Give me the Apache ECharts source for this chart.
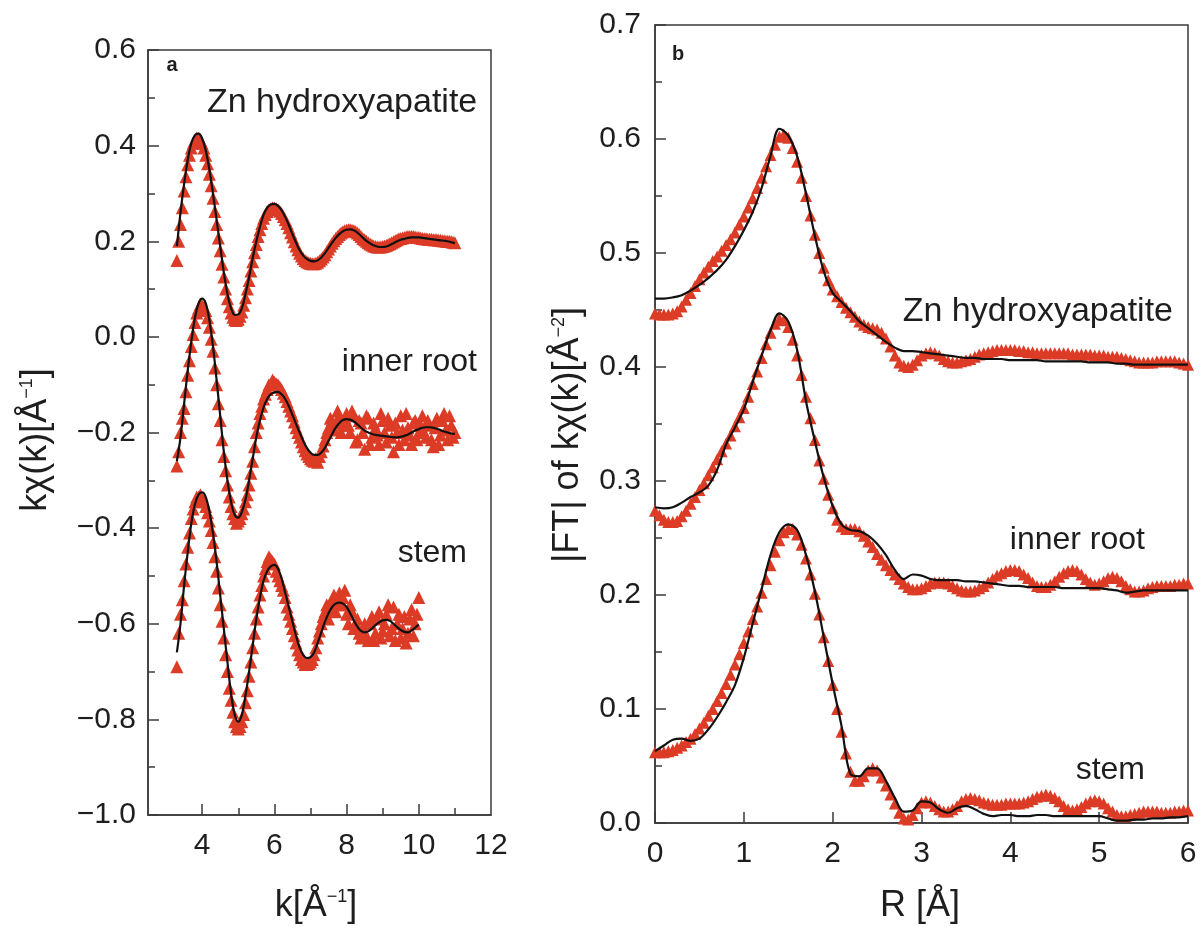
<!DOCTYPE html>
<html>
<head>
<meta charset="utf-8">
<title>EXAFS chi(k) and FT</title>
<script src="https://cdn.jsdelivr.net/npm/echarts@6/dist/echarts.min.js"></script>
<style>
  html, body { margin: 0; padding: 0; background: #fff; }
  #main { width: 1202px; height: 930px; }
</style>
</head>
<body>
<div id="main"></div>
<script>
// ---- panel a: k-space, k in 1/Å ----
var kGrid = [3.3,3.4,3.5,3.6,3.7,3.8,3.9,4.0,4.1,4.2,4.3,4.4,4.5,4.6,4.7,4.8,4.9,5.0,5.1,5.2,
  5.3,5.4,5.5,5.6,5.7,5.8,5.9,6.0,6.1,6.2,6.3,6.4,6.5,6.6,6.7,6.8,6.9,7.0,7.1,7.2,
  7.3,7.4,7.5,7.6,7.7,7.8,7.9,8.0,8.1,8.2,8.3,8.4,8.5,8.6,8.7,8.8,8.9,9.0,9.1,9.2,
  9.3,9.4,9.5,9.6,9.7,9.8,9.9,10.0,10.1,10.2,10.3,10.4,10.5,10.6,10.7,10.8,10.9,11.0];
// the measured points sit between the grid above as well
var kGridMid = [3.35,3.45,3.55,3.65,3.75,3.85,3.95,4.05,4.15,4.25,4.35,4.45,4.55,4.65,4.75,4.85,4.95,5.05,5.15,5.25,
  5.35,5.45,5.55,5.65,5.75,5.85,5.95,6.05,6.15,6.25,6.35,6.45,6.55,6.65,6.75,6.85,6.95,7.05,7.15,7.25,
  7.35,7.45,7.55,7.65,7.75,7.85,7.95,8.05,8.15,8.25,8.35,8.45,8.55,8.65,8.75,8.85,8.95,9.05,9.15,9.25,
  9.35,9.45,9.55,9.65,9.75,9.85,9.95,10.05,10.15,10.25,10.35,10.45,10.55,10.65,10.75,10.85,10.95];

// measured (triangles)
var znK = [0.16,0.235,0.305,0.36,0.395,0.412,0.415,0.405,0.38,0.34,
  0.29,0.235,0.18,0.125,0.08,0.05,0.036,0.037,0.052,0.082,
  0.118,0.157,0.193,0.224,0.248,0.262,0.268,0.269,0.266,0.258,
  0.245,0.228,0.209,0.19,0.175,0.164,0.157,0.154,0.153,0.156,
  0.163,0.172,0.184,0.196,0.206,0.214,0.22,0.223,0.224,0.222,
  0.217,0.21,0.203,0.197,0.192,0.189,0.188,0.189,0.191,0.195,
  0.199,0.203,0.206,0.208,0.21,0.21,0.209,0.208,0.206,0.205,
  0.204,0.203,0.203,0.202,0.201,0.2,0.199,0.197];
var znKMid = [0.2,0.27,0.335,0.38,0.405,0.416,0.412,0.395,0.362,0.316,
  0.262,0.207,0.152,0.1,0.063,0.041,0.034,0.043,0.066,0.1,
  0.138,0.176,0.21,0.237,0.256,0.266,0.27,0.268,0.263,0.252,
  0.237,0.218,0.199,0.182,0.169,0.16,0.155,0.153,0.154,0.159,
  0.167,0.178,0.19,0.201,0.21,0.217,0.222,0.224,0.223,0.22,
  0.214,0.206,0.2,0.194,0.19,0.188,0.188,0.19,0.193,0.197,
  0.201,0.205,0.207,0.209,0.21,0.21,0.208,0.207,0.205,0.204,
  0.204,0.203,0.202,0.201,0.2,0.2,0.198];
var rootK = [-0.27,-0.2,-0.15,-0.08,-0.02,0.03,0.06,0.065,0.055,0.02,
  -0.03,-0.1,-0.175,-0.25,-0.31,-0.355,-0.38,-0.385,-0.37,-0.345,
  -0.31,-0.26,-0.2,-0.16,-0.13,-0.11,-0.1,-0.095,-0.1,-0.11,
  -0.125,-0.145,-0.165,-0.19,-0.21,-0.23,-0.245,-0.255,-0.26,-0.262,
  -0.24,-0.215,-0.19,-0.175,-0.18,-0.165,-0.185,-0.16,-0.2,-0.165,
  -0.215,-0.18,-0.235,-0.17,-0.21,-0.19,-0.225,-0.175,-0.22,-0.185,
  -0.24,-0.2,-0.165,-0.215,-0.19,-0.225,-0.175,-0.2,-0.165,-0.21,
  -0.185,-0.23,-0.17,-0.205,-0.16,-0.215,-0.185,-0.2];
var rootKMid = [-0.24,-0.17,-0.115,-0.05,0.005,0.05,0.068,0.062,0.04,-0.005,
  -0.065,-0.14,-0.215,-0.28,-0.335,-0.37,-0.39,-0.38,-0.36,-0.33,
  -0.285,-0.23,-0.18,-0.145,-0.12,-0.1,-0.09,-0.098,-0.105,-0.118,
  -0.135,-0.155,-0.178,-0.2,-0.22,-0.238,-0.25,-0.258,-0.255,-0.25,
  -0.228,-0.2,-0.17,-0.195,-0.155,-0.2,-0.17,-0.185,-0.155,-0.22,
  -0.175,-0.2,-0.165,-0.225,-0.18,-0.205,-0.16,-0.2,-0.17,-0.21,
  -0.18,-0.225,-0.195,-0.16,-0.205,-0.18,-0.215,-0.185,-0.2,-0.175,
  -0.215,-0.19,-0.225,-0.175,-0.195,-0.165,-0.21];
var stemK = [-0.69,-0.58,-0.51,-0.44,-0.38,-0.345,-0.335,-0.34,-0.355,-0.385,
  -0.43,-0.49,-0.56,-0.63,-0.7,-0.76,-0.805,-0.82,-0.805,-0.765,
  -0.71,-0.65,-0.59,-0.54,-0.5,-0.47,-0.465,-0.475,-0.5,-0.52,
  -0.545,-0.58,-0.61,-0.64,-0.665,-0.68,-0.685,-0.68,-0.665,-0.63,
  -0.6,-0.575,-0.59,-0.55,-0.575,-0.535,-0.545,-0.58,-0.56,-0.61,
  -0.59,-0.63,-0.6,-0.635,-0.585,-0.62,-0.575,-0.615,-0.58,-0.625,
  -0.565,-0.6,-0.63,-0.585,-0.62,-0.57,-0.6,-0.545];
var stemKMid = [-0.62,-0.55,-0.475,-0.41,-0.36,-0.335,-0.33,-0.345,-0.368,-0.405,
  -0.46,-0.525,-0.595,-0.665,-0.735,-0.785,-0.815,-0.815,-0.79,-0.74,
  -0.68,-0.62,-0.565,-0.52,-0.485,-0.46,-0.47,-0.49,-0.51,-0.53,
  -0.565,-0.595,-0.625,-0.655,-0.675,-0.685,-0.683,-0.675,-0.65,-0.615,
  -0.585,-0.56,-0.57,-0.54,-0.56,-0.56,-0.53,-0.6,-0.575,-0.6,
  -0.62,-0.61,-0.625,-0.6,-0.635,-0.59,-0.63,-0.6,-0.56,-0.61,
  -0.635,-0.58,-0.61,-0.64,-0.59,-0.625,-0.58];

// fits (black lines)
var znKFit = [0.19,0.26,0.32,0.37,0.405,0.422,0.425,0.415,0.39,0.35,
  0.30,0.245,0.19,0.135,0.09,0.06,0.046,0.047,0.06,0.09,
  0.125,0.165,0.2,0.23,0.255,0.27,0.277,0.278,0.274,0.265,
  0.251,0.234,0.215,0.197,0.181,0.17,0.163,0.159,0.158,0.16,
  0.166,0.175,0.186,0.197,0.207,0.215,0.221,0.224,0.225,0.223,
  0.218,0.211,0.204,0.198,0.193,0.19,0.188,0.188,0.189,0.192,
  0.196,0.2,0.203,0.205,0.207,0.208,0.208,0.208,0.207,0.206,
  0.205,0.204,0.203,0.202,0.201,0.2,0.198,0.196];
var rootKFit = [-0.26,-0.21,-0.14,-0.07,-0.01,0.04,0.07,0.08,0.07,0.035,
  -0.02,-0.09,-0.165,-0.24,-0.3,-0.345,-0.372,-0.378,-0.366,-0.34,
  -0.3,-0.255,-0.21,-0.175,-0.148,-0.13,-0.12,-0.116,-0.115,-0.12,
  -0.13,-0.145,-0.163,-0.182,-0.2,-0.218,-0.232,-0.242,-0.247,-0.247,
  -0.242,-0.232,-0.218,-0.203,-0.19,-0.18,-0.174,-0.172,-0.173,-0.177,
  -0.183,-0.19,-0.196,-0.2,-0.203,-0.205,-0.206,-0.207,-0.208,-0.209,
  -0.21,-0.21,-0.209,-0.207,-0.204,-0.2,-0.196,-0.193,-0.19,-0.189,
  -0.189,-0.19,-0.192,-0.195,-0.198,-0.2,-0.202,-0.203];
var stemKFit = [-0.66,-0.6,-0.52,-0.45,-0.39,-0.35,-0.33,-0.325,-0.335,-0.365,
  -0.41,-0.47,-0.54,-0.61,-0.68,-0.745,-0.79,-0.805,-0.79,-0.75,
  -0.7,-0.645,-0.59,-0.545,-0.51,-0.49,-0.48,-0.477,-0.485,-0.505,
  -0.535,-0.565,-0.595,-0.625,-0.65,-0.665,-0.672,-0.67,-0.66,-0.64,
  -0.618,-0.596,-0.578,-0.565,-0.558,-0.556,-0.558,-0.565,-0.578,-0.593,
  -0.606,-0.615,-0.618,-0.616,-0.61,-0.603,-0.597,-0.593,-0.592,-0.594,
  -0.6,-0.607,-0.613,-0.617,-0.618,-0.614,-0.608,-0.602];

// ---- panel b: |FT|, R in Å ----
var rGrid = [0,0.05,0.1,0.15,0.2,0.25,0.3,0.35,0.4,0.45,
  0.5,0.55,0.6,0.65,0.7,0.75,0.8,0.85,0.9,0.95,
  1.0,1.05,1.1,1.15,1.2,1.25,1.3,1.35,1.4,1.45,
  1.5,1.55,1.6,1.65,1.7,1.75,1.8,1.85,1.9,1.95,
  2.0,2.05,2.1,2.15,2.2,2.25,2.3,2.35,2.4,2.45,
  2.5,2.55,2.6,2.65,2.7,2.75,2.8,2.85,2.9,2.95,
  3.0,3.05,3.1,3.15,3.2,3.25,3.3,3.35,3.4,3.45,
  3.5,3.55,3.6,3.65,3.7,3.75,3.8,3.85,3.9,3.95,
  4.0,4.05,4.1,4.15,4.2,4.25,4.3,4.35,4.4,4.45,
  4.5,4.55,4.6,4.65,4.7,4.75,4.8,4.85,4.9,4.95,
  5.0,5.05,5.1,5.15,5.2,5.25,5.3,5.35,5.4,5.45,
  5.5,5.55,5.6,5.65,5.7,5.75,5.8,5.85,5.9,5.95,6.0];
var rFitGrid = [0,0.1,0.2,0.3,0.4,0.5,0.6,0.7,0.8,0.9,
  1.0,1.1,1.2,1.3,1.4,1.5,1.6,1.7,1.8,1.9,
  2.0,2.1,2.2,2.3,2.4,2.5,2.6,2.7,2.8,2.9,
  3.0,3.1,3.2,3.3,3.4,3.5,3.6,3.7,3.8,3.9,
  4.0,4.1,4.2,4.3,4.4,4.5,4.6,4.7,4.8,4.9,
  5.0,5.1,5.2,5.3,5.4,5.5,5.6,5.7,5.8,5.9,6.0];

var znR = [0.447,0.446,0.446,0.446,0.447,0.449,0.453,0.459,0.465,0.471,
  0.477,0.483,0.488,0.493,0.497,0.502,0.507,0.512,0.518,0.525,
  0.532,0.54,0.548,0.557,0.566,0.576,0.586,0.595,0.602,0.604,
  0.601,0.592,0.58,0.566,0.55,0.533,0.516,0.5,0.487,0.476,
  0.468,0.462,0.457,0.452,0.448,0.444,0.44,0.437,0.435,0.434,
  0.433,0.43,0.425,0.418,0.41,0.404,0.401,0.4,0.402,0.406,
  0.41,0.412,0.413,0.412,0.41,0.407,0.405,0.404,0.404,0.405,
  0.406,0.407,0.409,0.411,0.412,0.413,0.414,0.415,0.415,0.415,
  0.415,0.415,0.414,0.414,0.413,0.413,0.412,0.412,0.412,0.412,
  0.412,0.412,0.412,0.412,0.411,0.411,0.411,0.411,0.411,0.41,
  0.41,0.41,0.409,0.409,0.409,0.408,0.407,0.406,0.405,0.404,
  0.404,0.404,0.404,0.405,0.405,0.405,0.405,0.405,0.404,0.403,0.402];
var rootR = [0.274,0.27,0.266,0.264,0.264,0.265,0.269,0.274,0.28,0.286,
  0.292,0.298,0.305,0.312,0.319,0.326,0.333,0.34,0.348,0.356,
  0.364,0.374,0.385,0.396,0.408,0.42,0.43,0.438,0.442,0.441,
  0.435,0.424,0.41,0.393,0.374,0.355,0.336,0.318,0.302,0.288,
  0.276,0.266,0.26,0.258,0.258,0.258,0.256,0.252,0.247,0.242,
  0.236,0.231,0.226,0.222,0.218,0.214,0.21,0.207,0.205,0.205,
  0.206,0.208,0.21,0.211,0.211,0.211,0.21,0.208,0.206,0.204,
  0.203,0.203,0.204,0.206,0.208,0.211,0.214,0.217,0.219,0.221,
  0.222,0.222,0.221,0.218,0.215,0.211,0.208,0.207,0.207,0.209,
  0.212,0.216,0.219,0.221,0.222,0.221,0.218,0.214,0.211,0.209,
  0.21,0.212,0.215,0.216,0.215,0.212,0.208,0.205,0.203,0.203,
  0.204,0.206,0.207,0.208,0.208,0.208,0.208,0.209,0.209,0.21,0.21];
var stemR = [0.062,0.062,0.062,0.063,0.064,0.066,0.068,0.071,0.074,0.078,
  0.083,0.088,0.094,0.1,0.107,0.114,0.122,0.13,0.139,0.148,
  0.158,0.168,0.179,0.19,0.202,0.214,0.226,0.238,0.248,0.255,
  0.258,0.258,0.253,0.244,0.232,0.218,0.201,0.183,0.163,0.142,
  0.121,0.1,0.08,0.061,0.045,0.037,0.037,0.041,0.046,0.048,
  0.046,0.04,0.033,0.025,0.017,0.009,0.004,0.003,0.007,0.013,
  0.018,0.019,0.018,0.015,0.012,0.01,0.01,0.012,0.015,0.019,
  0.021,0.022,0.021,0.02,0.018,0.017,0.016,0.016,0.016,0.017,
  0.017,0.017,0.017,0.018,0.019,0.021,0.023,0.024,0.025,0.024,
  0.022,0.019,0.015,0.012,0.011,0.012,0.014,0.017,0.019,0.02,
  0.019,0.017,0.013,0.01,0.007,0.006,0.006,0.007,0.008,0.009,
  0.01,0.01,0.01,0.01,0.009,0.009,0.009,0.01,0.01,0.011,0.011];

var znRFit = [0.46,0.46,0.461,0.463,0.467,0.472,0.478,0.485,0.494,0.506,
  0.52,0.536,0.557,0.585,0.609,0.603,0.585,0.552,0.515,0.484,
  0.465,0.457,0.449,0.44,0.434,0.428,0.422,0.417,0.414,0.414,
  0.413,0.412,0.411,0.41,0.409,0.408,0.408,0.407,0.407,0.407,
  0.406,0.406,0.406,0.406,0.405,0.405,0.405,0.405,0.405,0.404,
  0.404,0.404,0.403,0.403,0.402,0.402,0.402,0.402,0.402,0.402,0.402];
var rootRFit = [0.277,0.276,0.277,0.281,0.286,0.29,0.296,0.31,0.332,0.347,
  0.363,0.387,0.41,0.432,0.447,0.44,0.415,0.37,0.335,0.303,
  0.278,0.262,0.257,0.256,0.252,0.245,0.235,0.222,0.214,0.218,
  0.217,0.214,0.213,0.213,0.213,0.212,0.212,0.211,0.21,0.209,
  0.208,0.208,0.207,0.207,0.207,0.207,0.206,0.206,0.206,0.206,
  0.206,0.205,0.204,0.202,0.203,0.204,0.204,0.204,0.204,0.204,0.204];
var stemRFit = [0.063,0.068,0.073,0.074,0.072,0.074,0.082,0.093,0.106,0.121,
  0.145,0.175,0.205,0.235,0.255,0.262,0.257,0.235,0.203,0.163,
  0.122,0.085,0.043,0.041,0.048,0.048,0.037,0.022,0.01,0.011,
  0.019,0.018,0.012,0.009,0.013,0.015,0.012,0.008,0.006,0.007,
  0.007,0.006,0.006,0.007,0.007,0.006,0.006,0.006,0.006,0.006,
  0.006,0.004,0.002,0.002,0.003,0.003,0.004,0.004,0.005,0.005,0.006];

var kLabels = [4, 6, 8, 10, 12];
var kMajorTicks = [4, 6, 8, 10];
var kMinorTicks = [5, 7, 9, 11];

var RED = '#dc3b26';
var INK = '#1e1e1e';
var FONT = 'Liberation Sans, Arial, sans-serif';

function pairs(xs, ys) {
  var out = [];
  for (var i = 0; i < ys.length; i++) out.push([xs[i], ys[i]]);
  return out;
}
function fmt1(v) { return v.toFixed(1).replace('-', '\u2212'); }

function tri(name, xi, yi, data, size) {
  return { name: name, type: 'scatter', xAxisIndex: xi, yAxisIndex: yi, data: data,
    symbol: 'triangle', symbolSize: size, clip: false, itemStyle: { color: RED, opacity: 1 }, z: 2 };
}
function fit(name, xi, yi, data) {
  return { name: name, type: 'line', xAxisIndex: xi, yAxisIndex: yi, data: data,
    smooth: 0.35, showSymbol: false, symbol: 'none', lineStyle: { color: '#111', width: 2.2 }, z: 5 };
}

var axisLineStyle = { show: true, onZero: false, lineStyle: { color: '#3a3a3a', width: 1.5 } };
var tickStyle = { color: '#3a3a3a', width: 1.5 };

var option = {
  animation: false,
  backgroundColor: '#fff',
  textStyle: { fontFamily: FONT },
  grid: [
    { left: 148, top: 50, width: 343, height: 765, show: true, borderColor: '#3a3a3a', borderWidth: 1.5, backgroundColor: 'transparent' },
    { left: 655, top: 25, width: 533, height: 798, show: true, borderColor: '#3a3a3a', borderWidth: 1.5, backgroundColor: 'transparent' }
  ],
  xAxis: [
    { gridIndex: 0, type: 'value', position: 'bottom', min: 2.5, max: 12, axisLine: axisLineStyle, splitLine: { show: false },
      axisTick: { inside: true, length: 11, lineStyle: tickStyle, customValues: kMajorTicks },
      axisLabel: { customValues: kLabels, fontSize: 30, color: INK, margin: 16, fontFamily: FONT } },
    { gridIndex: 0, type: 'value', position: 'bottom', min: 2.5, max: 12, axisLine: { show: false, onZero: false }, splitLine: { show: false },
      axisTick: { inside: true, length: 7, lineStyle: tickStyle, customValues: kMinorTicks },
      axisLabel: { show: false } },
    { gridIndex: 1, type: 'value', position: 'bottom', min: 0, max: 6, interval: 1, axisLine: axisLineStyle, splitLine: { show: false },
      axisTick: { inside: true, length: 11, lineStyle: tickStyle },
      axisLabel: { fontSize: 30, color: INK, margin: 16, fontFamily: FONT, showMinLabel: true, showMaxLabel: true } }
  ],
  yAxis: [
    { gridIndex: 0, type: 'value', position: 'left', min: -1.0, max: 0.6, interval: 0.2, axisLine: axisLineStyle, splitLine: { show: false },
      axisTick: { inside: true, length: 11, lineStyle: tickStyle },
      axisLabel: { fontSize: 30, color: INK, margin: 12, fontFamily: FONT, formatter: fmt1, showMinLabel: true, showMaxLabel: true } },
    { gridIndex: 0, type: 'value', position: 'left', min: -1.0, max: 0.6, interval: 0.1, axisLine: { show: false, onZero: false }, splitLine: { show: false },
      axisTick: { inside: true, length: 7, lineStyle: tickStyle }, axisLabel: { show: false } },
    { gridIndex: 1, type: 'value', position: 'left', min: 0, max: 0.7, interval: 0.1, axisLine: axisLineStyle, splitLine: { show: false },
      axisTick: { inside: true, length: 11, lineStyle: tickStyle },
      axisLabel: { fontSize: 30, color: INK, margin: 14, fontFamily: FONT, formatter: fmt1, showMinLabel: true, showMaxLabel: true } },
    { gridIndex: 1, type: 'value', position: 'left', min: 0, max: 0.7, interval: 0.05, axisLine: { show: false, onZero: false }, splitLine: { show: false },
      axisTick: { inside: true, length: 7, lineStyle: tickStyle }, axisLabel: { show: false } }
  ],
  series: [
    tri('Zn hydroxyapatite', 0, 0, pairs(kGrid, znK).concat(pairs(kGridMid, znKMid)), 13),
    tri('inner root', 0, 0, pairs(kGrid, rootK).concat(pairs(kGridMid, rootKMid)), 13),
    tri('stem', 0, 0, pairs(kGrid, stemK).concat(pairs(kGridMid, stemKMid)), 13),
    fit('Zn hydroxyapatite fit', 0, 0, pairs(kGrid, znKFit)),
    fit('inner root fit', 0, 0, pairs(kGrid, rootKFit)),
    fit('stem fit', 0, 0, pairs(kGrid, stemKFit)),
    tri('Zn hydroxyapatite FT', 2, 2, pairs(rGrid, znR), 12),
    tri('inner root FT', 2, 2, pairs(rGrid, rootR), 12),
    tri('stem FT', 2, 2, pairs(rGrid, stemR), 12),
    fit('Zn hydroxyapatite FT fit', 2, 2, pairs(rFitGrid, znRFit)),
    fit('inner root FT fit', 2, 2, pairs(rFitGrid, rootRFit)),
    fit('stem FT fit', 2, 2, pairs(rFitGrid, stemRFit))
  ],
  graphic: [
    // panel letters
    { type: 'text', x: 172, y: 65, style: { text: 'a', font: 'bold 20px ' + FONT, fill: INK, align: 'center', verticalAlign: 'middle' } },
    { type: 'text', x: 678, y: 54, style: { text: 'b', font: 'bold 20px ' + FONT, fill: INK, align: 'center', verticalAlign: 'middle' } },
    // sample annotations, panel a
    { type: 'text', x: 207, y: 103, style: { text: 'Zn hydroxyapatite', font: '34px ' + FONT, fill: INK, align: 'left', verticalAlign: 'middle' } },
    { type: 'text', x: 477, y: 362, style: { text: 'inner root', font: '32px ' + FONT, fill: INK, align: 'right', verticalAlign: 'middle' } },
    { type: 'text', x: 467, y: 553, style: { text: 'stem', font: '32px ' + FONT, fill: INK, align: 'right', verticalAlign: 'middle' } },
    // sample annotations, panel b
    { type: 'text', x: 1173, y: 312, style: { text: 'Zn hydroxyapatite', font: '34px ' + FONT, fill: INK, align: 'right', verticalAlign: 'middle' } },
    { type: 'text', x: 1145, y: 540, style: { text: 'inner root', font: '32px ' + FONT, fill: INK, align: 'right', verticalAlign: 'middle' } },
    { type: 'text', x: 1145, y: 770, style: { text: 'stem', font: '32px ' + FONT, fill: INK, align: 'right', verticalAlign: 'middle' } },
    // axis titles
    { type: 'text', x: 36, y: 440, rotation: Math.PI / 2,
      style: { text: '{n|k\u03c7(k)[\u00c5}{s|\u22121}{n|]}', align: 'center', verticalAlign: 'middle', fill: INK,
        rich: { n: { fontSize: 36, fontFamily: FONT, fill: INK }, s: { fontSize: 18, fontFamily: FONT, fill: INK, verticalAlign: 'top' } } } },
    { type: 'text', x: 316, y: 906,
      style: { text: '{n|k[\u00c5}{s|\u22121}{n|]}', align: 'center', verticalAlign: 'middle', fill: INK,
        rich: { n: { fontSize: 36, fontFamily: FONT, fill: INK }, s: { fontSize: 18, fontFamily: FONT, fill: INK, verticalAlign: 'top' } } } },
    { type: 'text', x: 568, y: 435, rotation: Math.PI / 2,
      style: { text: '{n||FT| of k\u03c7(k)[\u00c5}{s|\u22122}{n|]}', align: 'center', verticalAlign: 'middle', fill: INK,
        rich: { n: { fontSize: 36, fontFamily: FONT, fill: INK }, s: { fontSize: 18, fontFamily: FONT, fill: INK, verticalAlign: 'top' } } } },
    { type: 'text', x: 920, y: 906,
      style: { text: 'R [\u00c5]', font: '36px ' + FONT, fill: INK, align: 'center', verticalAlign: 'middle' } }
  ]
};

var chart = echarts.init(document.getElementById('main'), null, { renderer: 'canvas' });
chart.setOption(option);
</script>
</body>
</html>
